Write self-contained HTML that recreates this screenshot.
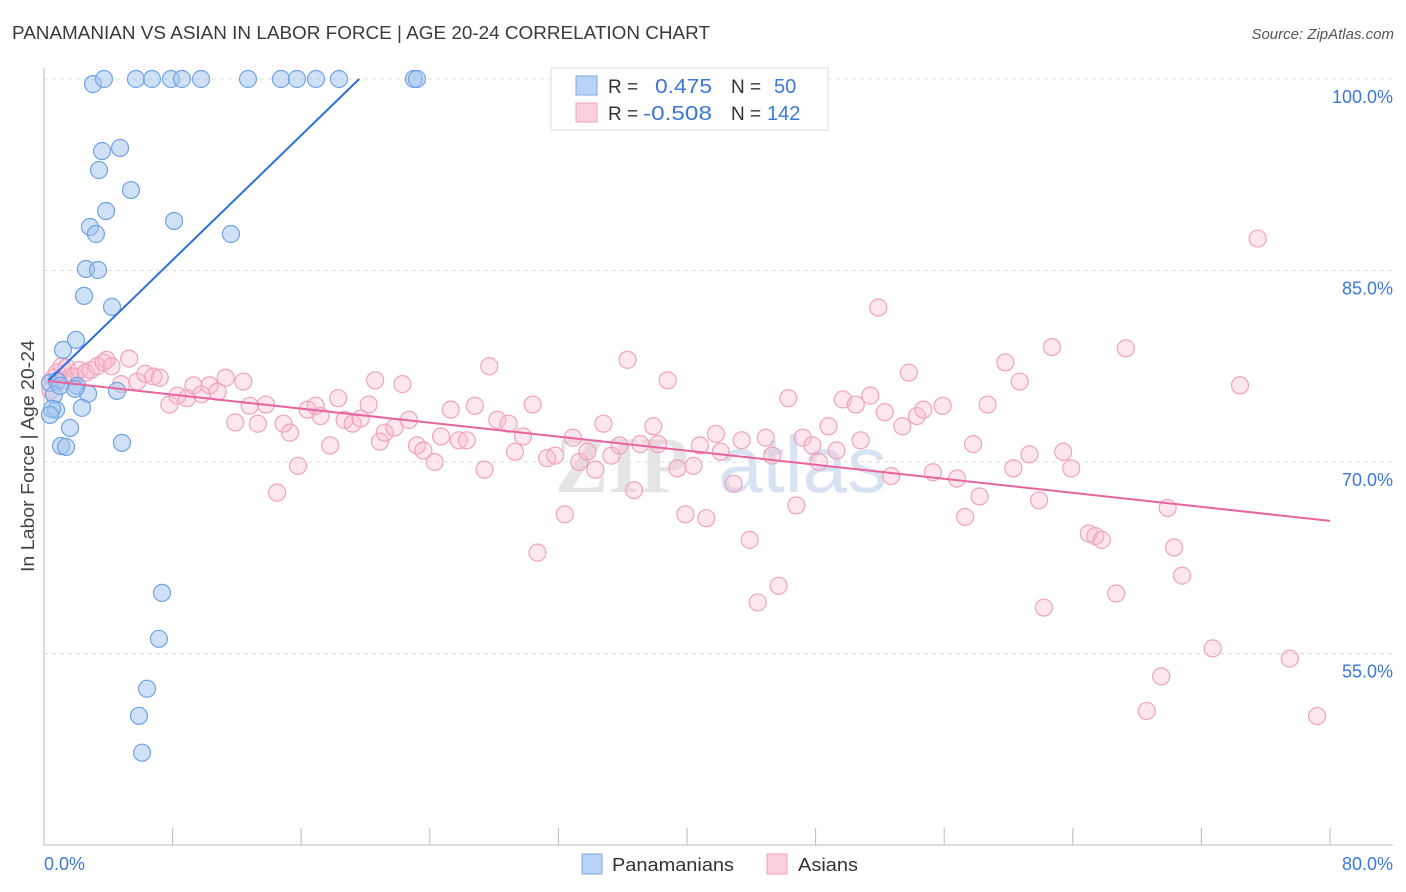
<!DOCTYPE html>
<html><head><meta charset="utf-8"><style>
body{margin:0;background:#fff;font-family:"Liberation Sans",sans-serif;}
#wrap{position:relative;width:1406px;height:892px;overflow:hidden;}
</style></head><body>
<div id="wrap">
<svg id="svg" width="1406" height="892" xmlns="http://www.w3.org/2000/svg">
<text x="12" y="39" font-size="18" fill="#3a3a3a" textLength="698" lengthAdjust="spacingAndGlyphs">PANAMANIAN VS ASIAN IN LABOR FORCE | AGE 20-24 CORRELATION CHART</text>
<text x="1394" y="39" font-size="15" fill="#555" font-style="italic" text-anchor="end">Source: ZipAtlas.com</text>
<text x="0" y="0" font-size="18" fill="#444" text-anchor="middle" textLength="232" lengthAdjust="spacingAndGlyphs" transform="translate(34,456) rotate(-90)">In Labor Force | Age 20-24</text>
<g><text x="555" y="492" font-size="80" fill="#e5e5e5" font-family="Liberation Serif,serif" font-weight="bold">ZIP</text><text x="718" y="492" font-size="80" fill="#d7e3f3">atlas</text></g>
<g id="grid"></g><g id="axes"></g><g id="pts"></g><g id="lines"></g>
<g>
<rect x="551" y="68" width="277" height="62" fill="#fff" stroke="#ddd"/>
<rect x="576" y="76" width="21" height="19" fill="#b8d3f5" stroke="#7aa8e8"/>
<rect x="576" y="103" width="21" height="19" fill="#fbd0dd" stroke="#f0a0b8"/>
<text x="608" y="93" font-size="19" fill="#333">R = </text><text x="655" y="93" font-size="20" fill="#3b78d8" textLength="57" lengthAdjust="spacingAndGlyphs">0.475</text>
<text x="731" y="93" font-size="19" fill="#333">N = </text><text x="774" y="93" font-size="20" fill="#3b78d8">50</text>
<text x="608" y="120" font-size="19" fill="#333">R = </text><text x="643" y="120" font-size="20" fill="#3b78d8" textLength="69" lengthAdjust="spacingAndGlyphs">-0.508</text>
<text x="731" y="120" font-size="19" fill="#333">N = </text><text x="767" y="120" font-size="20" fill="#3b78d8">142</text>
</g>
<g>
<rect x="582" y="854" width="20" height="20" fill="#b8d3f5" stroke="#7aa8e8"/>
<text x="612" y="871" font-size="18" fill="#333" textLength="122" lengthAdjust="spacingAndGlyphs">Panamanians</text>
<rect x="767" y="854" width="20" height="20" fill="#fbd0dd" stroke="#f0a0b8"/>
<text x="798" y="871" font-size="18" fill="#333" textLength="60" lengthAdjust="spacingAndGlyphs">Asians</text>
</g>
</svg>
</div>
<script>
const xTicks=[0,8,16,24,32,40,48,56,64,72,80];
const yTickVals=[100,85,70,55];
const yTickLabels=["100.0%","85.0%","70.0%","55.0%"];
const xEndLabels=["0.0%","80.0%"];
const panX=[3.05,3.73,5.72,6.72,7.90,8.58,9.77,12.69,14.74,15.74,16.92,18.35,23.01,23.20,3.61,4.73,3.42,5.41,3.86,8.09,2.86,3.23,11.63,2.61,3.36,2.49,4.23,1.99,1.18,0.37,0.81,0.62,2.05,2.74,4.54,0.75,2.36,0.50,0.37,1.62,1.06,1.37,4.85,7.34,7.15,6.41,5.91,6.10,1.93,1.00];
const panY=[99.6,100,100,100,100,100,100,100,100,100,100,100,100,100,94.36,94.60,92.87,91.30,89.66,88.88,88.41,87.86,87.86,85.12,85.04,83.01,82.15,79.56,78.78,76.20,76.35,75.26,75.96,75.34,75.57,74.08,74.24,74.16,73.69,72.67,71.26,71.18,71.50,59.75,56.15,52.24,50.12,47.23,75.73,75.96];
const asX=[0.4,0.6,0.8,1.1,1.2,1.4,1.7,1.9,2.2,2.6,2.9,3.3,3.7,3.9,4.2,4.8,5.3,5.8,6.3,6.8,7.2,7.8,8.3,8.9,9.3,9.8,10.3,10.8,11.3,11.9,12.4,12.8,13.3,13.8,14.5,14.9,15.3,15.8,16.4,16.9,17.2,17.8,18.3,18.7,19.2,19.7,20.2,20.6,20.9,21.2,21.8,22.3,22.7,23.2,23.6,24.3,24.7,25.3,25.8,26.3,26.8,27.4,27.7,28.2,28.9,29.3,29.8,30.4,30.7,31.3,31.8,32.4,32.9,33.3,33.8,34.3,34.8,35.3,35.8,36.3,36.7,37.1,37.9,38.2,38.8,39.4,39.9,40.4,40.8,41.2,41.8,42.1,42.9,43.4,43.9,44.4,44.9,45.3,45.7,46.3,46.8,47.2,47.8,48.2,48.8,49.3,49.7,50.5,50.8,51.4,51.9,52.3,52.7,53.4,53.8,54.3,54.7,55.3,55.9,56.8,57.3,57.8,58.2,58.7,59.8,60.3,60.7,61.3,61.9,62.2,62.7,63.4,63.9,65.0,65.4,65.8,66.7,67.3,68.6,69.5,69.9,70.3,70.8,72.7,74.4,75.5,77.5,79.2];
const asY=[75.6,76.6,77.0,77.5,76.4,77.4,76.7,76.7,77.2,77.0,77.2,77.5,77.8,78.0,77.5,76.1,78.1,76.3,76.9,76.7,76.6,74.5,75.2,75.0,76.0,75.3,76.0,75.5,76.6,73.1,76.3,74.4,73.0,74.5,67.6,73.0,72.3,69.7,74.1,74.4,73.6,71.3,75.0,73.3,73.0,73.4,74.5,76.4,71.6,72.3,72.7,76.1,73.3,71.3,70.9,70.0,72.0,74.1,71.7,71.7,74.4,69.4,77.5,73.3,73.0,70.8,72.0,74.5,62.9,70.3,70.5,65.9,71.9,70.0,70.8,69.4,73.0,70.5,71.3,78.0,67.8,71.4,72.8,71.4,76.4,69.5,65.9,69.7,71.3,65.6,72.2,70.8,68.3,71.7,63.9,59.0,71.9,70.5,60.3,75.0,66.6,71.9,71.3,70.0,72.8,70.9,74.9,74.5,71.7,75.2,82.1,73.9,68.9,72.8,77.0,73.6,74.1,69.2,74.4,68.7,65.7,71.4,67.3,74.5,77.8,69.5,76.3,70.6,67.0,58.6,79.0,70.8,69.5,64.4,64.2,63.9,59.7,78.9,50.5,53.2,66.4,63.3,61.1,55.4,76.0,87.5,54.6,50.1];
const panFit=[0.25,1.222,76.04];
const asFit=[0.25,80,-0.1374,76.38];
const NS="http://www.w3.org/2000/svg";
const X=v=>44+v*(1286/80);
const Y=v=>79+(100-v)*(191.5/15);
function mk(tag,attrs,parent){const e=document.createElementNS(NS,tag);for(const k in attrs)e.setAttribute(k,attrs[k]);document.getElementById(parent).appendChild(e);return e;}
yTickVals.forEach((v,i)=>{
 const l=mk('line',{x1:44,x2:1393,y1:Y(v),y2:Y(v),stroke:'#ddd','stroke-dasharray':'4,4'},'grid');
 
 
 const t=mk('text',{x:1393,y:Y(v)+24,'font-size':18,fill:'#3b78d8','text-anchor':'end'},'axes');
 t.textContent=yTickLabels[i];
 
 
});
let a=mk('line',{x1:44,x2:44,y1:68,y2:845,stroke:'#bbb'},'axes');


a=mk('line',{x1:44,x2:1393,y1:845,y2:845,stroke:'#bbb'},'axes');


xTicks.forEach(v=>{const t=mk('line',{x1:X(v),x2:X(v),y1:828,y2:845,stroke:'#bbb'},'axes');
 
 });
let tl=mk('text',{x:44,y:870,'font-size':18,fill:'#3b78d8'},'axes');tl.textContent=xEndLabels[0];


tl=mk('text',{x:1393,y:870,'font-size':18,fill:'#3b78d8','text-anchor':'end'},'axes');tl.textContent=xEndLabels[1];


asX.forEach((v,i)=>{const c=mk('circle',{cx:X(v),cy:Y(asY[i]),r:8.5,fill:'rgba(248,182,202,0.35)',stroke:'#f0a3bb','stroke-width':1.2},'pts');
 
 });
panX.forEach((v,i)=>{const c=mk('circle',{cx:X(v),cy:Y(panY[i]),r:8.5,fill:'rgba(160,196,240,0.5)',stroke:'#72a2e4','stroke-width':1.2},'pts');
 
 });
const pEnd=(100-panFit[2])/panFit[1];
let ln=mk('line',{x1:X(panFit[0]),y1:Y(panFit[2]+panFit[1]*panFit[0]),x2:X(pEnd),y2:Y(100),stroke:'#2a6fdb','stroke-width':2},'lines');


ln=mk('line',{x1:X(asFit[0]),y1:Y(asFit[3]+asFit[2]*asFit[0]),x2:X(asFit[1]),y2:Y(asFit[3]+asFit[2]*asFit[1]),stroke:'#e8649c','stroke-width':2},'lines');


</script>
</body></html>
